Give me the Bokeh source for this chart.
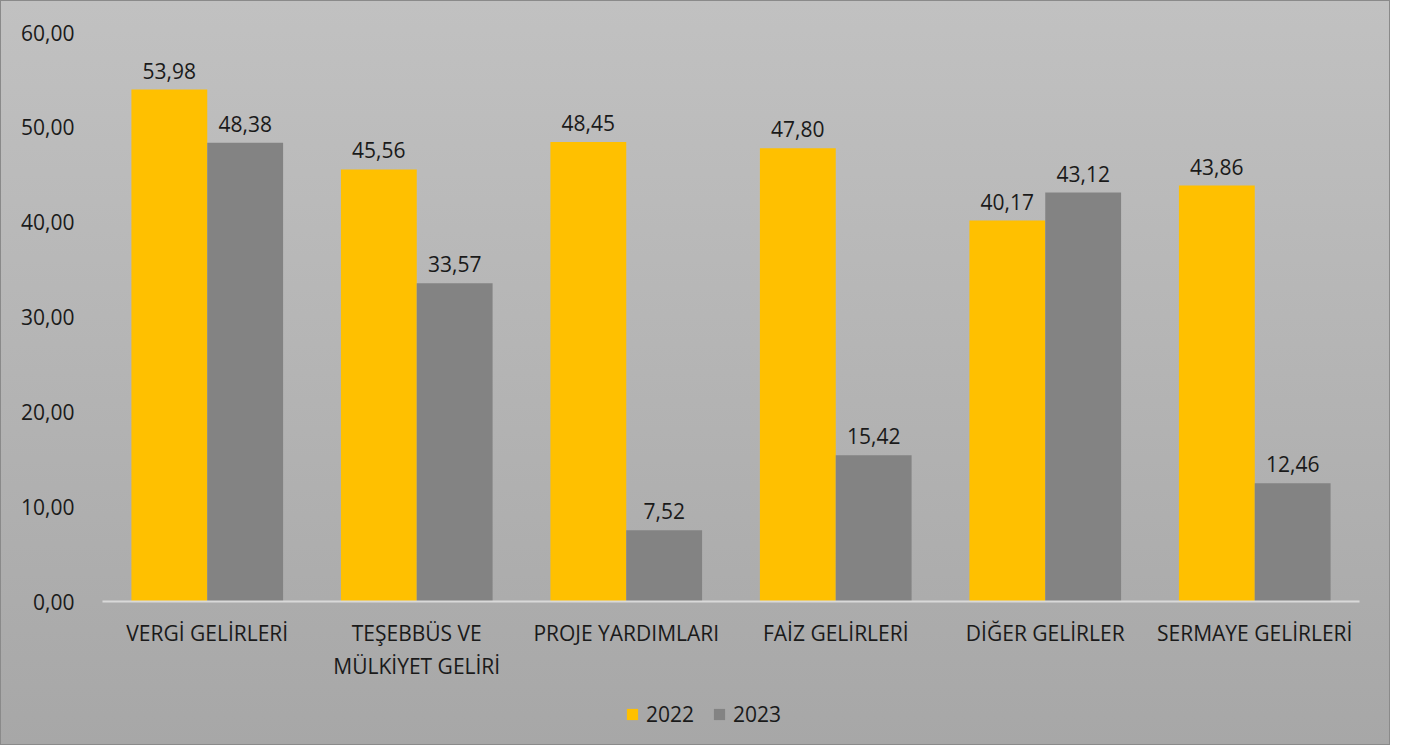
from bokeh.plotting import figure
from bokeh.layouts import column
from bokeh.models import ColumnDataSource, FixedTicker, Legend, LegendItem, FactorRange, Range1d
from bokeh.transform import dodge
from bokeh.core.properties import value
from bokeh.embed import file_html
from bokeh.resources import INLINE

categories = ["VERGİ GELİRLERİ", "TEŞEBBÜS VE\nMÜLKİYET GELİRİ", "PROJE YARDIMLARI",
              "FAİZ GELİRLERİ", "DİĞER GELİRLER", "SERMAYE GELİRLERİ"]
v2022 = [53.98, 45.56, 48.45, 47.80, 40.17, 43.86]
v2023 = [48.38, 33.57, 7.52, 15.42, 43.12, 12.46]
years = ["2022", "2023"]
yticks = [0, 10, 20, 30, 40, 50, 60]
colors = ["#FFC000", "#838383"]

def fmt(v):
    return f"{v:.2f}".replace(".", ",")

src = ColumnDataSource(dict(
    cat=categories, v2022=v2022, v2023=v2023,
    l2022=[fmt(v) for v in v2022], l2023=[fmt(v) for v in v2023],
))

FONT = "Open Sans"
FS = "21px"
W = 1388
p = figure(x_range=FactorRange(*categories), y_range=(0, 60), width=W, height=688,
           output_backend="svg", toolbar_location=None,
           min_border_left=101, min_border_right=30, min_border_top=31, min_border_bottom=88)
p.background_fill_color = None
p.border_fill_color = None
p.outline_line_color = None

bw = 0.362
r1 = p.vbar(x=dodge("cat", -bw / 2, range=p.x_range), top="v2022", width=bw, source=src,
            fill_color=colors[0], line_color=None)
r2 = p.vbar(x=dodge("cat", bw / 2, range=p.x_range), top="v2023", width=bw, source=src,
            fill_color=colors[1], line_color=None)

for col, off in (("2022", -bw / 2), ("2023", bw / 2)):
    p.text(x=dodge("cat", off, range=p.x_range), y="v" + col, text="l" + col, source=src,
           text_align="center", text_baseline="bottom", y_offset=-11,
           text_font=value(FONT), text_font_size=FS, text_color="#1a1a1a")

p.xgrid.visible = False
p.ygrid.visible = False

p.yaxis.ticker = FixedTicker(ticks=yticks)
p.yaxis.major_label_overrides = {t: fmt(t) for t in yticks}
p.yaxis.axis_line_color = None
p.yaxis.major_tick_line_color = None
p.yaxis.minor_tick_line_color = None
p.yaxis.major_label_standoff = 22
p.yaxis.major_label_text_font = FONT
p.yaxis.major_label_text_font_size = FS
p.yaxis.major_label_text_color = "#1a1a1a"

p.xaxis.axis_line_color = "#d9d9d9"
p.xaxis.axis_line_width = 2
p.xaxis.major_tick_line_color = None
p.xaxis.minor_tick_line_color = None
p.xaxis.major_label_standoff = 11
p.xaxis.major_label_text_font = FONT
p.xaxis.major_label_text_font_size = FS
p.xaxis.major_label_text_color = "#1a1a1a"
p.x_range.range_padding = 0
p.x_range.group_padding = 0

# legend strip below the chart (swatch renderers sit outside the visible range)
p2 = figure(width=W, height=55, output_backend="svg", toolbar_location=None,
            x_range=Range1d(0, 1), y_range=Range1d(0, 1),
            min_border=0, x_axis_type=None, y_axis_type=None)
p2.background_fill_color = None
p2.border_fill_color = None
p2.outline_line_color = None
p2.xgrid.visible = False
p2.ygrid.visible = False
swatch = ColumnDataSource(dict(x=[-5], top=[0]))
lr = [p2.vbar(x="x", top="top", width=0.1, source=swatch, fill_color=c, line_color=None)
      for c in colors]
legend = Legend(items=[LegendItem(label=y, renderers=[r]) for y, r in zip(years, lr)],
                orientation="horizontal", location=(523, 16),
                background_fill_alpha=0, border_line_color=None,
                label_text_font=FONT, label_text_font_size=FS, label_text_color="#1a1a1a",
                glyph_width=14, glyph_height=14, spacing=18, label_standoff=7,
                padding=0, margin=0)
p2.add_layout(legend, "center")

lay = column(p, p2, spacing=0,
             styles={"background": "linear-gradient(#c1c1c1, #a7a7a7)",
                     "border": "1px solid #8a8a8a"})

open("out.html", "w").write(file_html(lay, INLINE))
